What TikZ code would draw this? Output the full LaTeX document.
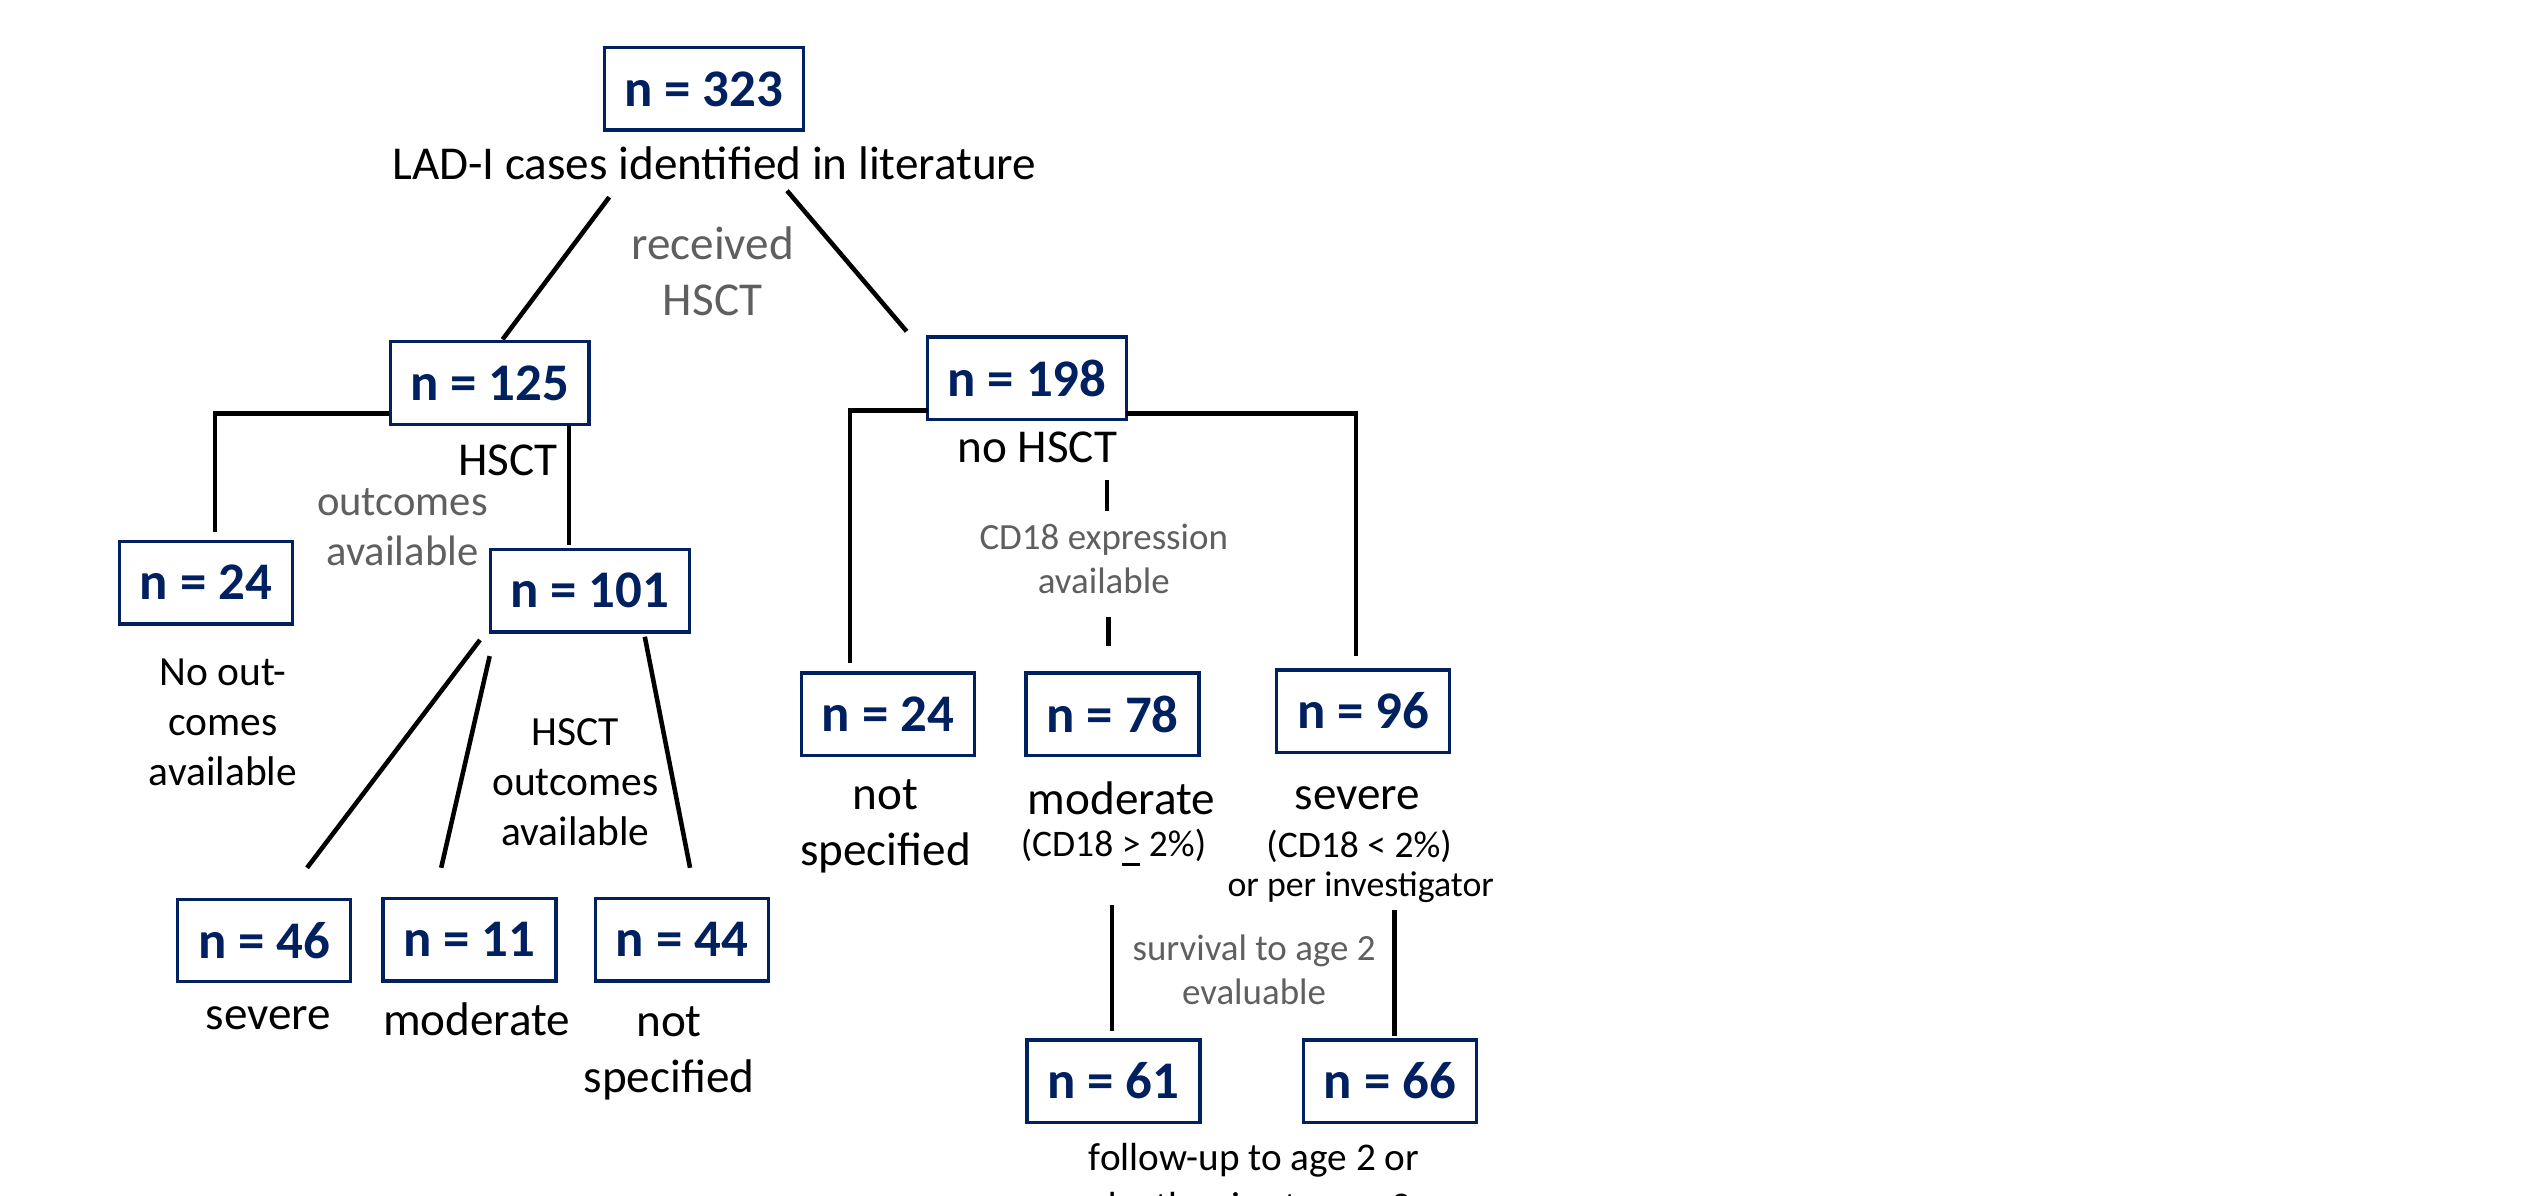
\documentclass[tikz,border=0pt]{standalone}
\usepackage{fontspec}
\setmainfont{Carlito}
\definecolor{navy}{HTML}{002060}
\definecolor{txtgray}{HTML}{5F5F5F}
\begin{document}
\begin{tikzpicture}[x=0.01cm,y=-0.01cm,
  nbox/.style={draw=navy, line width=0.6pt, fill=white, text=navy,
    font=\fontsize{9.3}{11}\selectfont\bfseries, minimum height=0.51cm, inner sep=0pt},
  wide/.style={nbox, minimum width=1.23cm},
  narrow/.style={nbox, minimum width=1.07cm},
  lbl/.style={align=center, inner sep=0pt, font=\fontsize{8.3}{9.9}\selectfont},
  lblm/.style={align=center, inner sep=0pt, font=\fontsize{7.3}{8.8}\selectfont},
  lbls/.style={align=center, inner sep=0pt, font=\fontsize{6.6}{7.6}\selectfont},
  glbl/.style={lbl, text=txtgray},
  glblm/.style={lblm, text=txtgray, font=\fontsize{7.5}{8.8}\selectfont},
  glbls/.style={lbls, text=txtgray, font=\fontsize{6.5}{7.8}\selectfont},
  conn/.style={line width=0.8pt, black},
]
\useasboundingbox (0,0) rectangle (1568,739.5);
\clip (0,0) rectangle (1568,739.5);

% ---------- root ----------
\node[wide] (r) at (435.5,55) {n = 323};
\node[lbl] (rl) at (442,101) {LAD-I cases identified in literature};
\node[glbl] (rhsct) at (441,168) {received\\HSCT};

\coordinate (ra1) at (377,122); \coordinate (ra2) at (311,210);
\coordinate (rb1) at (487,118); \coordinate (rb2) at (561,205);
\draw[conn] (ra1) -- (ra2);
\draw[conn] (rb1) -- (rb2);

% ---------- HSCT branch ----------
\node[wide] (b125) at (303,237) {n = 125};
\node[lbl, anchor=east] (h125) at (346,285) {HSCT};
\node[glblm] (oa) at (249,326) {outcomes\\available};

\node[narrow] (b24a) at (127.5,360.5) {n = 24};
\node[lblm] (t24a) at (138,447) {No out-\\comes\\available};

\node[wide] (b101) at (365,365.5) {n = 101};
\node[lblm] (t101) at (356,484) {HSCT\\outcomes\\available};

\coordinate (p1) at (241,256); \coordinate (p2) at (133,329);
\draw[conn] (p1) -| (p2);
\coordinate (q1) at (352,263); \coordinate (q2) at (352,337);
\draw[conn] (q1) -- (q2);

\node[narrow] (b46) at (163.5,582) {n = 46};
\node[narrow] (b11) at (290.5,581.5) {n = 11};
\node[narrow] (b44) at (422,581.5) {n = 44};
\node[lbl] (t46) at (166,630) {severe};
\node[lbl] (t11) at (295,631) {moderate};
\node[lbl] (t44) at (414,652) {not\\specified};

\coordinate (s1) at (297,396); \coordinate (s2) at (190,537);
\coordinate (m1) at (303,406); \coordinate (m2) at (273,537);
\coordinate (u1) at (399,394); \coordinate (u2) at (427,537);
\draw[conn] (s1) -- (s2);
\draw[conn] (m1) -- (m2);
\draw[conn] (u1) -- (u2);

% ---------- no HSCT branch ----------
\node[wide] (b198) at (635.5,234) {n = 198};
\node[lbl] (t198) at (642,277) {no HSCT};

\coordinate (v1) at (574,254); \coordinate (v2) at (526,410);
\draw[conn] (v1) -| (v2);
\coordinate (w1) at (697,256); \coordinate (w2) at (839,406);
\draw[conn] (w1) -| (w2);

\node[glbls] (cd) at (683,346) {CD18 expression\\available};
\coordinate (x1) at (685,297); \coordinate (x2) at (685,316);
\coordinate (x3) at (686,382); \coordinate (x4) at (686,400);
\draw[conn] (x1) -- (x2);
\draw[conn] (x3) -- (x4);

\node[narrow] (b24b) at (549.5,442) {n = 24};
\node[narrow] (b78) at (688.5,442) {n = 78};
\node[narrow] (b96) at (843.5,440) {n = 96};

\node[lbl] (t24b) at (548,511.5) {not\\specified};
\node[lbl] (t78) at (694,494) {moderate};
\node[lbls] (t78b) at (689,525) {(CD18 \underline{>} 2\%)};
\node[lbl] (t96) at (840,494) {severe};
\node[lbls] (t96b) at (841,524) {(CD18 < 2\%)};
\node[lbls, font=\fontsize{6.3}{7.5}\selectfont] (t96c) at (842,549) {or per investigator};

\node[glbls] (sv) at (776,600) {survival to age 2\\evaluable};
\coordinate (y1) at (688,560); \coordinate (y2) at (688,638);
\coordinate (z1) at (863,563); \coordinate (z2) at (863,641);
\draw[conn] (y1) -- (y2);
\draw[conn] (z1) -- (z2);

\node[narrow] (b61) at (689,669) {n = 61};
\node[narrow] (b66) at (860,669) {n = 66};
\node[lbls, font=\fontsize{6.9}{8.6}\selectfont, anchor=north] (fu) at (776,707) {follow-up to age 2 or\\death prior to age 2};
\end{tikzpicture}
\end{document}
